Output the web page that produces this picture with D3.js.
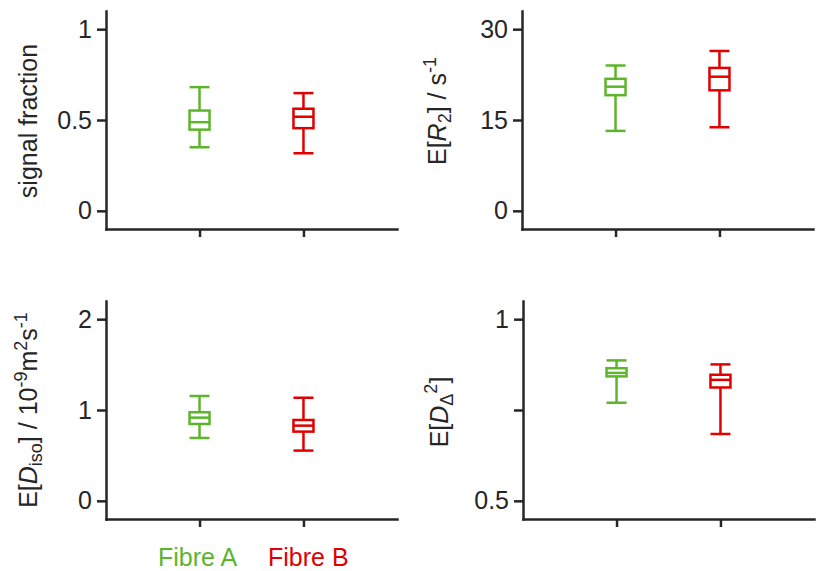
<!DOCTYPE html>
<html>
<head>
<meta charset="utf-8">
<script src="https://cdn.jsdelivr.net/npm/d3@7"></script>
<style>
  html, body { margin: 0; padding: 0; background: #fff; }
  text { font-family: "Liberation Sans", Arial, Helvetica, sans-serif; }
</style>
</head>
<body>
<svg id="chart" width="816" height="571"></svg>
<script>
// ---------------- data ----------------
const categories = ["Fibre A", "Fibre B"];
const seriesColors = ["#5db52b", "#e00000"];

// [whisker low, Q1, median, Q3, whisker high]
const signalFractionA = [0.350, 0.447, 0.488, 0.552, 0.681];
const signalFractionB = [0.317, 0.455, 0.518, 0.562, 0.648];

const r2A = [13.2, 19.1, 20.5, 21.8, 24.0];
const r2B = [13.8, 19.9, 22.15, 23.6, 26.4];

const dIsoA = [0.692, 0.846, 0.916, 0.975, 1.154];
const dIsoB = [0.553, 0.762, 0.828, 0.890, 1.135];

const dDeltaA = [0.770, 0.8425, 0.852, 0.865, 0.8865];
const dDeltaB = [0.684, 0.812, 0.833, 0.847, 0.8755];

const ticksSF = [0, 0.5, 1];          const tickLabelsSF = ["0", "0.5", "1"];
const ticksR2 = [0, 15, 30];          const tickLabelsR2 = ["0", "15", "30"];
const ticksDIso = [0, 1, 2];          const tickLabelsDIso = ["0", "1", "2"];
const ticksDDelta = [0.5, 0.75, 1];   const tickLabelsDDelta = ["0.5", "", "1"];

// ---------------- layout ----------------
const svg = d3.select("#chart");
const ink = "#262626";
const lw = 2.5;
const fontSize = 25;

const panels = [
  { axisX: 106, top: 11,  bottom: 229, domain: [-0.1, 1.1], ticks: ticksSF, labels: tickLabelsSF,
    data: [signalFractionA, signalFractionB], labelX: 37, labelY: 121, label: "sf" },
  { axisX: 522, top: 11,  bottom: 229, domain: [-3, 33], ticks: ticksR2, labels: tickLabelsR2,
    data: [r2A, r2B], labelX: 446, labelY: 111, label: "r2" },
  { axisX: 106, top: 301, bottom: 519, domain: [-0.2, 2.2], ticks: ticksDIso, labels: tickLabelsDIso,
    data: [dIsoA, dIsoB], labelX: 37, labelY: 410, label: "diso" },
  { axisX: 523, top: 301, bottom: 519, domain: [0.45, 1.05], ticks: ticksDDelta, labels: tickLabelsDDelta,
    data: [dDeltaA, dDeltaB], labelX: 448, labelY: 412, label: "ddelta" }
];
const axisLen = 291;
const boxHalf = 10;

panels.forEach(p => {
  const g = svg.append("g");
  const y = d3.scaleLinear().domain(p.domain).range([p.bottom, p.top]);
  const x = d3.scaleLinear().domain([0.1, 2.9]).range([p.axisX, p.axisX + axisLen]);

  // y axis
  const ya = g.append("g").attr("transform", `translate(${p.axisX},0)`)
    .call(d3.axisLeft(y).tickValues(p.ticks).tickSize(9).tickSizeOuter(0).tickPadding(5)
      .tickFormat((d, i) => p.labels[i]));
  // x axis
  const xa = g.append("g").attr("transform", `translate(0,${p.bottom})`)
    .call(d3.axisBottom(x).tickValues([1, 2]).tickSize(8).tickSizeOuter(0).tickFormat(() => ""));
  [ya, xa].forEach(a => {
    a.selectAll("path.domain").attr("stroke", ink).attr("stroke-width", lw).attr("stroke-linecap", "square");
    a.selectAll(".tick line").attr("stroke", ink).attr("stroke-width", lw);
    a.selectAll(".tick text").attr("fill", ink).style("font-size", fontSize + "px")
      .style("font-family", '"Liberation Sans", Arial, sans-serif');
  });
  // drop empty tick labels
  ya.selectAll(".tick text").filter(function () { return this.textContent === ""; }).remove();
  xa.selectAll(".tick text").remove();

  // boxes
  p.data.forEach((v, i) => {
    const cx = x(i + 1);
    const c = seriesColors[i];
    const bg = g.append("g").attr("stroke", c).attr("stroke-width", lw).attr("fill", "none");
    // whiskers
    bg.append("line").attr("x1", cx).attr("x2", cx).attr("y1", y(v[3])).attr("y2", y(v[4]));
    bg.append("line").attr("x1", cx).attr("x2", cx).attr("y1", y(v[1])).attr("y2", y(v[0]));
    // caps
    [v[0], v[4]].forEach(val => {
      bg.append("line").attr("x1", cx - boxHalf).attr("x2", cx + boxHalf).attr("y1", y(val)).attr("y2", y(val));
    });
    // box
    bg.append("rect").attr("x", cx - boxHalf).attr("width", 2 * boxHalf)
      .attr("y", y(v[3])).attr("height", y(v[1]) - y(v[3]));
    // median
    bg.append("line").attr("x1", cx - boxHalf).attr("x2", cx + boxHalf).attr("y1", y(v[2])).attr("y2", y(v[2]));
  });

  // y label
  const t = g.append("text").attr("transform", `translate(${p.labelX},${p.labelY}) rotate(-90)`)
    .attr("text-anchor", "middle").attr("fill", ink).style("font-size", fontSize + "px");
  const small = Math.round(fontSize * 0.7) + "px";
  if (p.label === "sf") {
    t.text("signal fraction");
  } else if (p.label === "r2") {
    t.append("tspan").text("E[");
    t.append("tspan").text("R").style("font-style", "italic");
    t.append("tspan").text("2").attr("dy", 5).style("font-size", small);
    t.append("tspan").text("] / s").attr("dy", -5);
    t.append("tspan").text("-1").attr("dy", -10).style("font-size", small);
  } else if (p.label === "diso") {
    t.append("tspan").text("E[");
    t.append("tspan").text("D").style("font-style", "italic");
    t.append("tspan").text("iso").attr("dy", 5).style("font-size", small);
    t.append("tspan").text("] / 10").attr("dy", -5);
    t.append("tspan").text("-9").attr("dy", -10).style("font-size", small);
    t.append("tspan").text("m").attr("dy", 10);
    t.append("tspan").text("2").attr("dy", -10).style("font-size", small);
    t.append("tspan").text("s").attr("dy", 10);
    t.append("tspan").text("-1").attr("dy", -10).style("font-size", small);
  } else {
    t.append("tspan").text("E[");
    t.append("tspan").text("D").style("font-style", "italic");
    t.append("tspan").text("\u0394").attr("dy", 5).style("font-size", small);
    t.append("tspan").text("2").attr("dy", -16).style("font-size", small);
    t.append("tspan").text("]").attr("dy", 11);
  }
});

// legend (category names under the bottom-left panel)
const legendX = [158, 268];
categories.forEach((name, i) => {
  svg.append("text").attr("x", legendX[i]).attr("y", 566)
    .attr("fill", seriesColors[i]).style("font-size", "25px").text(name);
});
</script>
</body>
</html>
